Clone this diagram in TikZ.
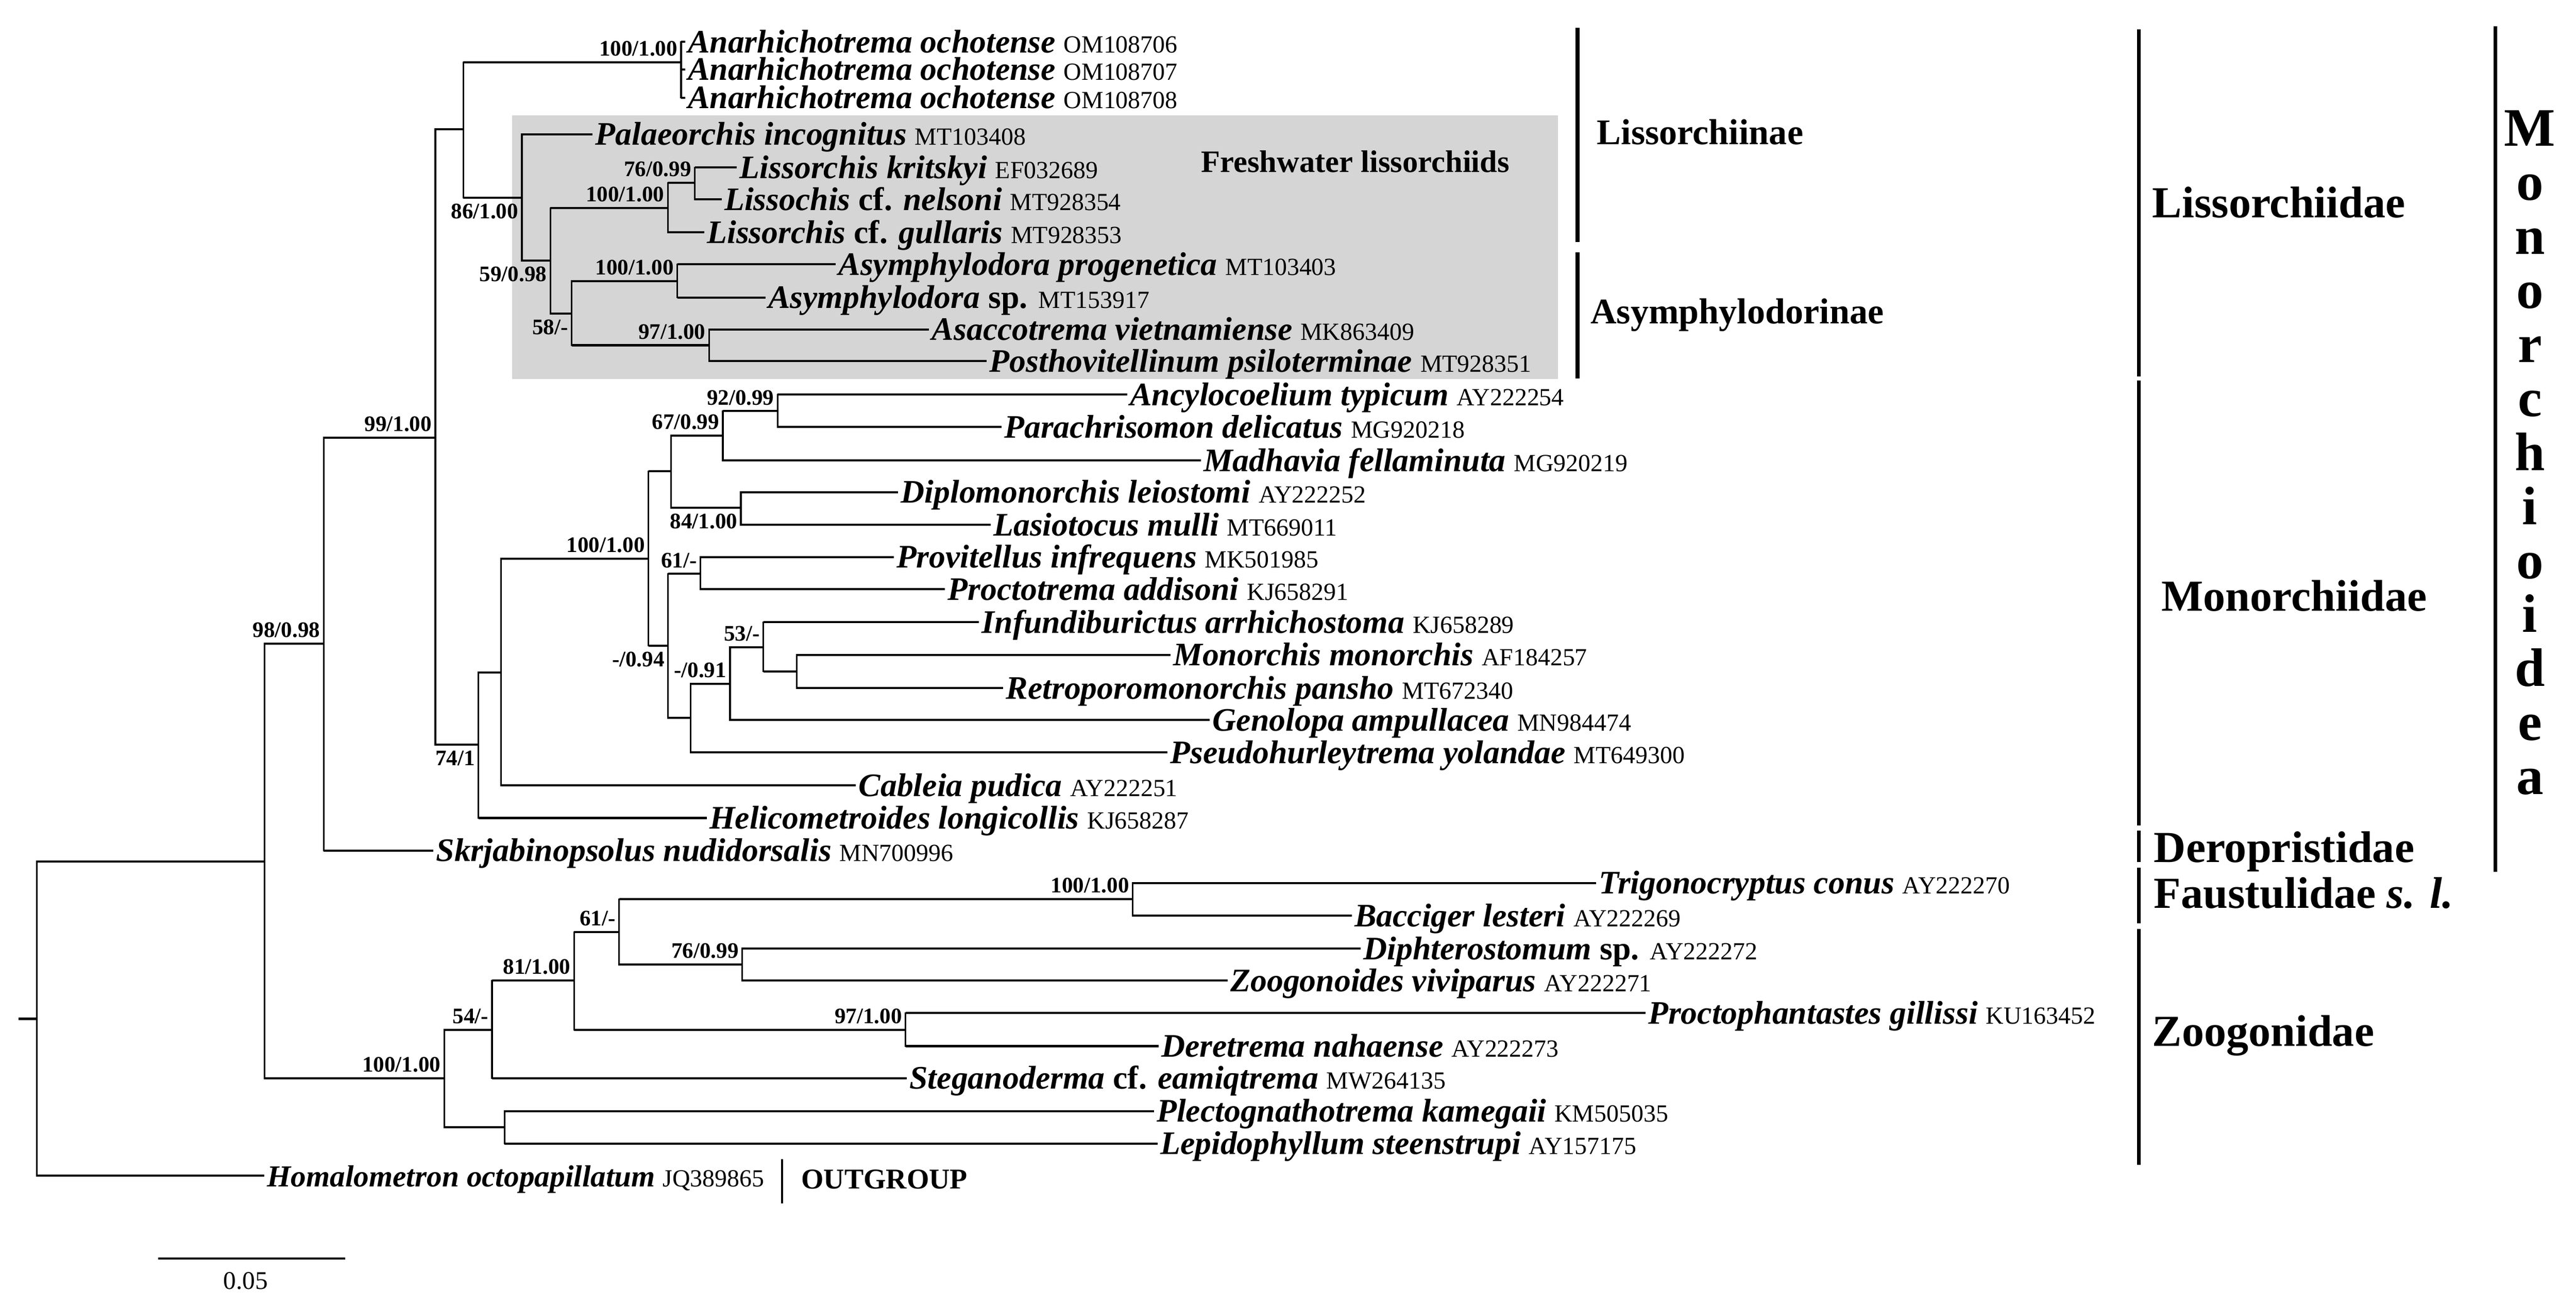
\documentclass[tikz,border=0pt]{standalone}
\usepackage{fontspec}
\setmainfont{Liberation Serif}
\usetikzlibrary{positioning}
\definecolor{boxgray}{RGB}{213,213,213}
\newcommand{\taxname}[2]{{\bfseries\itshape #1} {\fontsize{15}{16}\selectfont #2}}

\begin{document}
\begin{tikzpicture}[x=1pt,y=-1pt,
vbr/.style={line width=1pt},
hbr/.style={line width=1.3pt},
bar/.style={line width=2.4pt},
taxon/.style={anchor=base west,inner sep=0pt,xshift=1.5pt,yshift=-6.6pt,font=\fontsize{20}{22}\selectfont},
bsup/.style={anchor=south east,inner sep=0pt,xshift=-2pt,yshift=3.5pt,font=\fontsize{13.5}{14}\selectfont\bfseries},
bsdown/.style={anchor=north east,inner sep=0pt,xshift=-2pt,yshift=-3.5pt,font=\fontsize{13.5}{14}\selectfont\bfseries},
clade/.style={anchor=base west,inner sep=0pt,font=\fontsize{22}{24}\selectfont\bfseries},
family/.style={anchor=base west,inner sep=0pt,font=\fontsize{27}{29}\selectfont\bfseries}]
\useasboundingbox (0,0) rectangle (1568.1,797.1);

% freshwater box
\fill[boxgray] (311.8,70.4) rectangle (948.5,230.7);
\node[anchor=base west,inner sep=0pt,font=\fontsize{19}{21}\selectfont\bfseries] (fresh) at (731,105) {Freshwater lissorchiids};

% internal nodes
\coordinate (rootend) at (11.2,620.5);
\coordinate (R) at (22.4,620.5);
\coordinate (IN) at (161,524.7);
\coordinate (M98) at (197,392);
\coordinate (M99) at (265,266.5);
\coordinate (LIS) at (282,78.7);
\coordinate (ANO) at (414.6,38);
\coordinate (F86) at (317.7,120.3);
\coordinate (F59) at (335,158.8);
\coordinate (L100) at (406.5,126.8);
\coordinate (L76) at (423,111.4);
\coordinate (A58) at (348,191);
\coordinate (A100) at (412.3,171.2);
\coordinate (A97) at (431.7,210.3);
\coordinate (M74) at (291.3,453.5);
\coordinate (MC) at (305,409.5);
\coordinate (M100) at (394.7,340.3);
\coordinate (MU) at (408.4,287);
\coordinate (M67) at (440,265.2);
\coordinate (M92) at (473.4,250.4);
\coordinate (M84) at (451,309.3);
\coordinate (ML) at (406.7,393.2);
\coordinate (M61) at (426.4,349.5);
\coordinate (M91) at (420.4,437.2);
\coordinate (M44) at (444.4,416.5);
\coordinate (M53) at (464.7,394.1);
\coordinate (MM) at (485,408.9);
\coordinate (Z100) at (270.4,656.7);
\coordinate (Z54) at (299.5,627.2);
\coordinate (Z81) at (349.4,597.2);
\coordinate (Z61) at (376.9,567.7);
\coordinate (F100) at (689.5,547.7);
\coordinate (Z76) at (451.8,587.4);
\coordinate (Z97) at (551.2,627.2);
\coordinate (ZPL) at (307.1,686.5);

% tips
\path (417,25.5) coordinate (anoc1) node[taxon] (anoc1-t) {\taxname{Anarhichotrema ochotense}{OM108706}};
\path (417,42.3) coordinate (anoc2) node[taxon] (anoc2-t) {\taxname{Anarhichotrema ochotense}{OM108707}};
\path (417,59.5) coordinate (anoc3) node[taxon] (anoc3-t) {\taxname{Anarhichotrema ochotense}{OM108708}};
\path (360.8,81.8) coordinate (pain) node[taxon] (pain-t) {\taxname{Palaeorchis incognitus}{MT103408}};
\path (448.6,102) coordinate (likr) node[taxon] (likr-t) {\taxname{Lissorchis kritskyi}{EF032689}};
\path (439.3,121.4) coordinate (line) node[taxon] (line-t) {\taxname{Lissochis \textup{cf.} nelsoni}{MT928354}};
\path (428.7,141.5) coordinate (ligu) node[taxon] (ligu-t) {\taxname{Lissorchis \textup{cf.} gullaris}{MT928353}};
\path (508.7,161) coordinate (aspr) node[taxon] (aspr-t) {\taxname{Asymphylodora progenetica}{MT103403}};
\path (466,181.2) coordinate (assp) node[taxon] (assp-t) {\taxname{Asymphylodora \textup{sp.}}{MT153917}};
\path (565.6,200.6) coordinate (asvi) node[taxon] (asvi-t) {\taxname{Asaccotrema vietnamiense}{MK863409}};
\path (600.7,219.9) coordinate (pops) node[taxon] (pops-t) {\taxname{Posthovitellinum psiloterminae}{MT928351}};
\path (686.2,240.3) coordinate (ancy) node[taxon] (ancy-t) {\taxname{Ancylocoelium typicum}{AY222254}};
\path (609.6,260) coordinate (pade) node[taxon] (pade-t) {\taxname{Parachrisomon delicatus}{MG920218}};
\path (731,280.5) coordinate (mafe) node[taxon] (mafe-t) {\taxname{Madhavia fellaminuta}{MG920219}};
\path (546.7,299.7) coordinate (dile) node[taxon] (dile-t) {\taxname{Diplomonorchis leiostomi}{AY222252}};
\path (603,319.6) coordinate (lamu) node[taxon] (lamu-t) {\taxname{Lasiotocus mulli}{MT669011}};
\path (544,339.3) coordinate (prin) node[taxon] (prin-t) {\taxname{Provitellus infrequens}{MK501985}};
\path (575.2,358.9) coordinate (prad) node[taxon] (prad-t) {\taxname{Proctotrema addisoni}{KJ658291}};
\path (596,378.9) coordinate (inar) node[taxon] (inar-t) {\taxname{Infundiburictus arrhichostoma}{KJ658289}};
\path (712.5,398.8) coordinate (momo) node[taxon] (momo-t) {\taxname{Monorchis monorchis}{AF184257}};
\path (610.7,419) coordinate (repa) node[taxon] (repa-t) {\taxname{Retroporomonorchis pansho}{MT672340}};
\path (736.5,438.5) coordinate (geam) node[taxon] (geam-t) {\taxname{Genolopa ampullacea}{MN984474}};
\path (710.8,458.2) coordinate (psyo) node[taxon] (psyo-t) {\taxname{Pseudohurleytrema yolandae}{MT649300}};
\path (521,478.3) coordinate (capu) node[taxon] (capu-t) {\taxname{Cableia pudica}{AY222251}};
\path (430.2,498.2) coordinate (helo) node[taxon] (helo-t) {\taxname{Helicometroides longicollis}{KJ658287}};
\path (263.8,518) coordinate (sknu) node[taxon] (sknu-t) {\taxname{Skrjabinopsolus nudidorsalis}{MN700996}};
\path (971.6,537.8) coordinate (trco) node[taxon] (trco-t) {\taxname{Trigonocryptus conus}{AY222270}};
\path (822.8,557.6) coordinate (bale) node[taxon] (bale-t) {\taxname{Bacciger lesteri}{AY222269}};
\path (828.3,577.7) coordinate (disp) node[taxon] (disp-t) {\taxname{Diphterostomum \textup{sp.}}{AY222272}};
\path (747.3,597.2) coordinate (zovi) node[taxon] (zovi-t) {\taxname{Zoogonoides viviparus}{AY222271}};
\path (1001.6,617) coordinate (prgi) node[taxon] (prgi-t) {\taxname{Proctophantastes gillissi}{KU163452}};
\path (705.2,637.1) coordinate (dena) node[taxon] (dena-t) {\taxname{Deretrema nahaense}{AY222273}};
\path (552,656.6) coordinate (stea) node[taxon] (stea-t) {\taxname{Steganoderma \textup{cf.} eamiqtrema}{MW264135}};
\path (702.4,676.7) coordinate (plka) node[taxon] (plka-t) {\taxname{Plectognathotrema kamegaii}{KM505035}};
\path (704.6,696.5) coordinate (lest) node[taxon] (lest-t) {\taxname{Lepidophyllum steenstrupi}{AY157175}};
\path (161,716) coordinate (hooc) node[taxon,font=\fontsize{18.6}{20}\selectfont] (hooc-t) {\taxname{Homalometron octopapillatum}{JQ389865}};

% branches
\draw[hbr] (rootend) -- (R);
\foreach \p/\c in {R/IN,R/hooc,IN/M98,IN/Z100,M98/M99,M98/sknu,M99/LIS,M99/M74,
  LIS/ANO,LIS/F86,ANO/anoc1,ANO/anoc2,ANO/anoc3,F86/pain,F86/F59,F59/L100,F59/A58,
  L100/L76,L100/ligu,L76/likr,L76/line,A58/A100,A58/A97,A100/aspr,A100/assp,A97/asvi,A97/pops,
  M74/MC,M74/helo,MC/M100,MC/capu,M100/MU,M100/ML,MU/M67,MU/M84,M67/M92,M67/mafe,
  M92/ancy,M92/pade,M84/dile,M84/lamu,ML/M61,ML/M91,M61/prin,M61/prad,M91/M44,M91/psyo,
  M44/M53,M44/geam,M53/inar,M53/MM,MM/momo,MM/repa,
  Z100/Z54,Z100/ZPL,Z54/Z81,Z54/stea,Z81/Z61,Z81/Z97,Z61/F100,Z61/Z76,F100/trco,F100/bale,
  Z76/disp,Z76/zovi,Z97/prgi,Z97/dena,ZPL/plka,ZPL/lest}
  {\draw[vbr] (\p) |- (\c);
   \draw[hbr] (\p |- \c) -- (\c);}

% support values
\node[bsup] (s-M98) at (M98) {98/0.98};
\node[bsup] (s-M99) at (M99) {99/1.00};
\node[bsup] (s-ANO) at (ANO) {100/1.00};
\node[bsdown] (s-F86) at (F86) {86/1.00};
\node[bsdown] (s-F59) at (F59) {59/0.98};
\node[bsup] (s-L100) at (L100) {100/1.00};
\node[bsup] (s-L76) at (L76) {76/0.99};
\node[bsdown] (s-A58) at (A58) {58/-};
\node[bsup] (s-A100) at (A100) {100/1.00};
\node[bsup] (s-A97) at (A97) {97/1.00};
\node[bsdown] (s-M74) at (M74) {74/1};
\node[bsup] (s-M100) at (M100) {100/1.00};
\node[bsup] (s-M67) at (M67) {67/0.99};
\node[bsup] (s-M92) at (M92) {92/0.99};
\node[bsdown] (s-M84) at (M84) {84/1.00};
\node[bsdown] (s-ML) at (ML) {-/0.94};
\node[bsup] (s-M61) at (M61) {61/-};
\node[bsup] (s-M44) at (M44) {-/0.91};
\node[bsup] (s-M53) at (M53) {53/-};
\node[bsup] (s-Z100) at (Z100) {100/1.00};
\node[bsup] (s-Z54) at (Z54) {54/-};
\node[bsup] (s-Z81) at (Z81) {81/1.00};
\node[bsup] (s-Z61) at (Z61) {61/-};
\node[bsup] (s-F100) at (F100) {100/1.00};
\node[bsup] (s-Z76) at (Z76) {76/0.99};
\node[bsup] (s-Z97) at (Z97) {97/1.00};

% clade bars and names
\draw[bar] (960.3,17) -- (960.3,147.4);
\draw[bar] (960.3,153.7) -- (960.3,230.6);
\node[clade] (lissinae) at (972,88) {Lissorchiinae};
\node[clade] (asyinae) at (968,197) {Asymphylodorinae};
\draw[bar] (1302,17.8) -- (1302,229.2);
\draw[bar] (1302,231.9) -- (1302,502.7);
\draw[bar] (1302,505.8) -- (1302,525);
\draw[bar] (1302,528.4) -- (1302,562.3);
\draw[bar] (1302,565.8) -- (1302,709.3);
\node[family] (lissidae) at (1310,132.5) {Lissorchiidae};
\node[family] (monidae) at (1315.6,372) {Monorchiidae};
\node[family] (deridae) at (1311,525) {Deropristidae};
\node[family] (fauidae) at (1311,553) {Faustulidae \textit{s. l.}};
\node[family] (zooidae) at (1310,637) {Zoogonidae};
\draw[bar] (1519,16) -- (1519,531);
\foreach \l [count=\k from 0] in {M,o,n,o,r,c,h,i,o,i,d,e,a}
  \node[anchor=base,inner sep=0pt,font=\fontsize{33}{35}\selectfont\bfseries] (mo\k) at (1540,{89+32.9*\k}) {\l};

% outgroup
\draw[line width=1.2pt] (476,706) -- (476,733);
\node[anchor=base west,inner sep=0pt,font=\fontsize{17.5}{19}\selectfont\bfseries] (outg) at (487.6,724) {OUTGROUP};

% scale
\coordinate (sc0) at (96.3,766.4);
\coordinate (sc1) at (210,766.4);
\draw[hbr] (sc0) -- (sc1);
\node[anchor=base,inner sep=0pt,font=\fontsize{15.5}{17}\selectfont] (scl) at (149.6,785) {0.05};
\end{tikzpicture}
\end{document}
